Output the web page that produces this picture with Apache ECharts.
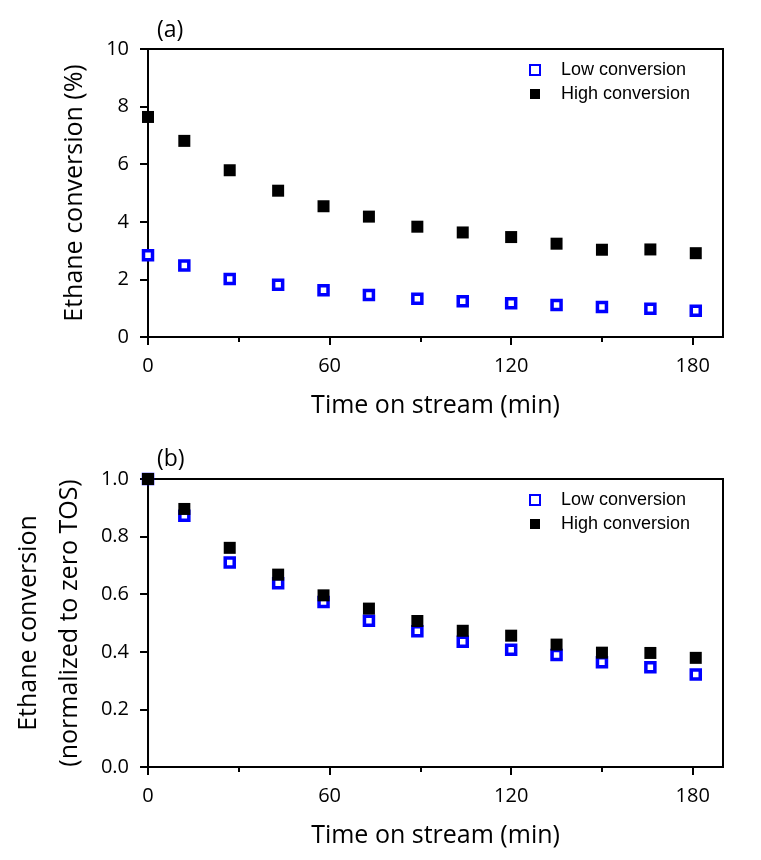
<!DOCTYPE html>
<html>
<head>
<meta charset="utf-8">
<script src="https://cdn.jsdelivr.net/npm/echarts@6/dist/echarts.min.js"></script>
<style>
  html, body { margin: 0; padding: 0; background: #fff; }
  #chart { width: 761px; height: 860px; }
</style>
</head>
<body>
<div id="chart"></div>
<script>
// time on stream (min)
const timeMin = [0, 12, 27, 43, 58, 73, 89, 104, 120, 135, 150, 166, 181];
// (a) ethane conversion, %
const lowConv = [2.84, 2.48, 2.01, 1.81, 1.62, 1.46, 1.33, 1.24, 1.17, 1.11, 1.04, 0.98, 0.91];
const highConv = [7.64, 6.81, 5.79, 5.08, 4.54, 4.18, 3.83, 3.63, 3.47, 3.24, 3.03, 3.04, 2.91];
// (b) normalized to zero TOS
const lowNorm = [1.0, 0.872, 0.710, 0.638, 0.573, 0.508, 0.471, 0.435, 0.407, 0.389, 0.364, 0.346, 0.321];
const highNorm = [1.0, 0.896, 0.761, 0.668, 0.596, 0.550, 0.507, 0.473, 0.456, 0.425, 0.397, 0.396, 0.379];

const xMajorTicks = [0, 60, 120, 180];
const xMinorTicks = [30, 90, 150];
const seriesNames = ['Low conversion', 'High conversion'];

const mainFont = 'Open Sans';
const pairs = (ys) => timeMin.map((t, i) => [t, ys[i]]);

function gridBox(top) {
    return {
        left: 148, right: 38, top: top, height: 288,
        show: true, borderColor: '#000', borderWidth: 2,
        backgroundColor: 'transparent'
    }
}

function mainX(gridIndex) {
    return {
        type: 'value', gridIndex: gridIndex, min: 0, max: 190,
        name: 'Time on stream (min)', nameLocation: 'middle', nameGap: 56,
        nameTextStyle: { fontFamily: mainFont, fontSize: 25, color: '#000' },
        axisLine: { show: true, onZero: false, lineStyle: { color: '#000', width: 2 } },
        axisTick: { show: true, inside: false, length: 8, customValues: xMajorTicks, lineStyle: { color: '#000', width: 2 } },
        axisLabel: { customValues: xMajorTicks, margin: 19, fontFamily: mainFont, fontSize: 20, color: '#000' },
        splitLine: { show: false }
    }
}

function minorX(gridIndex) {
    return {
        type: 'value', gridIndex: gridIndex, min: 0, max: 190, position: 'bottom',
        axisLine: { show: false },
        axisTick: { show: true, inside: false, length: 5, customValues: xMinorTicks, lineStyle: { color: '#000', width: 2 } },
        axisLabel: { show: false },
        splitLine: { show: false }
    }
}

function leftY(gridIndex, max, interval, name, nameGap, fmt) {
    return {
        type: 'value', gridIndex: gridIndex, min: 0, max: max, interval: interval,
        name: name, nameLocation: 'middle', nameGap: nameGap, nameRotate: 90,
        nameTextStyle: { fontFamily: mainFont, fontSize: 25, color: '#000', lineHeight: 41 },
        axisLine: { show: true, onZero: false, lineStyle: { color: '#000', width: 2 } },
        axisTick: { show: true, inside: false, length: 8, lineStyle: { color: '#000', width: 2 } },
        axisLabel: { margin: 19, fontFamily: mainFont, fontSize: 20, color: '#000', formatter: fmt },
        splitLine: { show: false }
    }
}

const lowStyle = { color: '#fff', borderColor: '#0000ff', borderWidth: 3.5, opacity: 1 };
const highStyle = { color: '#000', opacity: 1 };

function legendAt(top) {
    return {
        orient: 'vertical', left: 524, top: top,
        itemWidth: 10, itemHeight: 10, itemGap: 6,
        data: seriesNames,
        textStyle: { fontFamily: 'Liberation Sans', fontSize: 18, color: '#000', padding: [0, 0, 0, 16] }
    }
}

let myChart = echarts.init(document.getElementById('chart'), null, { renderer: 'canvas' });
let option = {
    animation: false,
    backgroundColor: '#fff',
    title: [
        { text: '(a)', left: 152, top: 14, textStyle: { fontFamily: mainFont, fontSize: 23, fontWeight: 'normal', color: '#000' } },
        { text: '(b)', left: 152, top: 443, textStyle: { fontFamily: mainFont, fontSize: 23, fontWeight: 'normal', color: '#000' } }
    ],
    legend: [legendAt(56), legendAt(486)],
    grid: [gridBox(49), gridBox(479)],
    xAxis: [mainX(0), minorX(0), mainX(1), minorX(1)],
    yAxis: [
        leftY(0, 10, 2, 'Ethane conversion (%)', 52, (v) => String(v)),
        leftY(1, 1, 0.2, 'Ethane conversion\n(normalized to zero TOS)', 55, (v) => v.toFixed(1))
    ],
    series: [
        { name: seriesNames[0], type: 'scatter', xAxisIndex: 0, yAxisIndex: 0, symbol: 'rect', symbolSize: 9, itemStyle: lowStyle, data: pairs(lowConv) },
        { name: seriesNames[1], type: 'scatter', xAxisIndex: 0, yAxisIndex: 0, symbol: 'rect', symbolSize: 12, itemStyle: highStyle, data: pairs(highConv) },
        { name: seriesNames[0], type: 'scatter', xAxisIndex: 2, yAxisIndex: 1, symbol: 'rect', symbolSize: 9, itemStyle: lowStyle, data: pairs(lowNorm) },
        { name: seriesNames[1], type: 'scatter', xAxisIndex: 2, yAxisIndex: 1, symbol: 'rect', symbolSize: 12, itemStyle: highStyle, data: pairs(highNorm) }
    ]
};
myChart.setOption(option);
window.addEventListener('resize', function() {
    myChart.resize()
});
</script>
</body>
</html>
